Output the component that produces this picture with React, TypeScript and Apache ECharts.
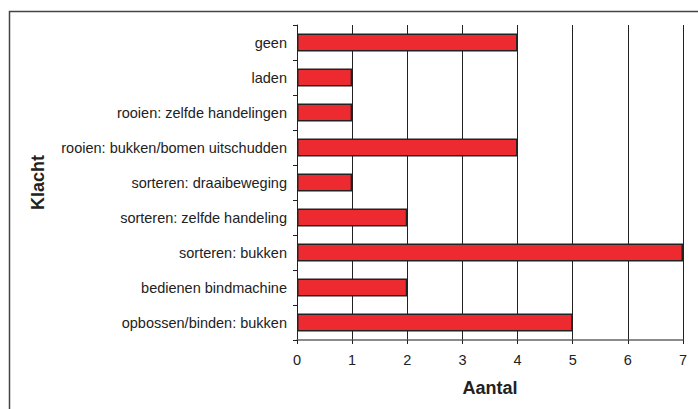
import React, { useEffect, useRef } from "react";
import * as echarts from "echarts";

const categories = [
  "geen",
  "laden",
  "rooien: zelfde handelingen",
  "rooien: bukken/bomen uitschudden",
  "sorteren: draaibeweging",
  "sorteren: zelfde handeling",
  "sorteren: bukken",
  "bedienen bindmachine",
  "opbossen/binden: bukken",
];
const values = [4, 1, 1, 4, 1, 2, 7, 2, 5];
const xTicks = [0, 1, 2, 3, 4, 5, 6, 7];

export default function App() {
  const ref = useRef<HTMLDivElement>(null);
  useEffect(() => {
    const chart = echarts.init(ref.current!, null, { renderer: "svg" });
    const font = "'Liberation Sans', Arial, sans-serif";
    chart.setOption({
      animation: false,
      backgroundColor: "#ffffff",
      textStyle: { fontFamily: font },
      graphic: [
        {
          type: "rect",
          shape: { x: 9.5, y: 11.5, width: 720, height: 420 },
          style: { fill: "none", stroke: "#444", lineWidth: 1.5 },
          silent: true,
        },
      ],
      grid: { left: 297, right: 15, top: 25, bottom: 69, containLabel: false },
      xAxis: {
        type: "value",
        min: 0,
        max: 7,
        interval: 1,
        name: "Aantal",
        nameLocation: "middle",
        nameGap: 39,
        nameTextStyle: { fontSize: 18, fontWeight: "bold", color: "#222", fontFamily: font },
        axisLine: { show: true, lineStyle: { color: "#666", width: 1.5 } },
        axisTick: { show: true, length: 4, lineStyle: { color: "#222" } },
        axisLabel: {
          fontSize: 14.5,
          color: "#222",
          margin: 12,
          fontFamily: font,
          formatter: (v: number) => (xTicks.includes(v) ? String(v) : ""),
        },
        splitLine: { show: true, lineStyle: { color: "#222", width: 1 } },
      },
      yAxis: {
        type: "category",
        data: categories,
        inverse: true,
        name: "Klacht",
        nameLocation: "middle",
        nameGap: 250,
        nameRotate: 90,
        nameTextStyle: { fontSize: 18, fontWeight: "bold", color: "#222", fontFamily: font },
        axisLine: { show: true, lineStyle: { color: "#222", width: 1 } },
        axisTick: { show: true, length: 4, alignWithLabel: false, lineStyle: { color: "#222" } },
        axisLabel: { fontSize: 14.5, color: "#222", margin: 10, fontFamily: font },
        splitLine: { show: false },
      },
      series: [
        {
          type: "bar",
          data: values,
          barWidth: "51%",
          itemStyle: { color: "#ED2A2F", borderColor: "#222", borderWidth: 1.5 },
        },
      ],
    });
    return () => chart.dispose();
  }, []);
  return (
    <div
      ref={ref}
      style={{ position: "fixed", left: 0, top: 0, width: 698, height: 409 }}
    />
  );
}
